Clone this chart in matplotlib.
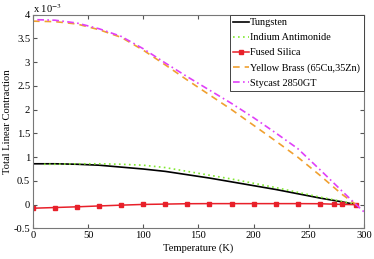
import numpy as np
import matplotlib
matplotlib.use('Agg')
import matplotlib.pyplot as plt

# ---- data (values in units of 1e-3) ----
t_w = [0, 20, 40, 60, 80, 100, 120, 140, 160, 180, 200, 220, 240, 260, 280, 293]
tungsten = [0.86, 0.86, 0.85, 0.83, 0.79, 0.75, 0.70, 0.63, 0.56, 0.48, 0.40, 0.32, 0.23, 0.14, 0.06, 0.0]

t_insb = [10, 20, 40, 60, 80, 100, 120, 140, 160, 180, 200, 220, 240, 260, 280, 290]
insb = [0.85, 0.85, 0.86, 0.86, 0.85, 0.83, 0.78, 0.70, 0.62, 0.54, 0.45, 0.36, 0.26, 0.16, 0.07, 0.02]

t_sio2 = [0, 20, 40, 60, 80, 100, 120, 140, 160, 180, 200, 220, 240, 260, 273, 280, 293]
sio2 = [-0.075, -0.06, -0.045, -0.027, -0.01, 0.005, 0.012, 0.02, 0.022, 0.022, 0.022, 0.022, 0.022, 0.02,
        0.01, 0.005, 0.0]

t_brass = [0, 20, 40, 60, 80, 100, 120, 140, 160, 180, 200, 220, 240, 260, 280, 293]
brass = [3.86, 3.85, 3.80, 3.68, 3.52, 3.25, 2.94, 2.62, 2.31, 2.00, 1.67, 1.34, 1.00, 0.62, 0.22, 0.0]

t_sty = [4, 20, 40, 60, 80, 100, 120, 140, 160, 180, 200, 220, 240, 260, 280, 293, 300]
stycast = [3.89, 3.88, 3.82, 3.70, 3.54, 3.28, 2.98, 2.69, 2.41, 2.13, 1.83, 1.51, 1.18, 0.74, 0.29, 0.0, -0.15]

labels = ['Tungsten', 'Indium Antimonide', 'Fused Silica', 'Yellow Brass (65Cu,35Zn)', 'Stycast 2850GT']

plt.rcParams['font.family'] = ['Liberation Serif', 'DejaVu Serif']
plt.rcParams['mathtext.fontset'] = 'stix'

fig = plt.figure(figsize=(3.74, 2.59), dpi=100)
ax = fig.add_axes([0.088, 0.118, 0.885, 0.826])

ax.plot(t_w, tungsten, color='black', lw=1.2, label=labels[0])
ax.plot(t_insb, insb, color='#80e830', lw=1.2, ls=(0, (1, 2)), label=labels[1])
ax.plot(t_sio2, sio2, color='#e8202a', lw=1.1, marker='s', ms=2.8, label=labels[2])
ax.plot(t_brass, brass, color='#f0a030', lw=1.2, ls=(0, (4, 3)), label=labels[3])
ax.plot(t_sty, stycast, color='#e040f8', lw=1.2, ls=(0, (4, 2, 1, 2)), label=labels[4])

ax.set_xlim(0, 300)
ax.set_ylim(-0.5, 4)
ax.set_xticks(np.arange(0, 301, 50))
ax.set_yticks(np.arange(-0.5, 4.01, 0.5))
ax.set_yticklabels(['-0.5', '0', '0.5', '1', '1.5', '2', '2.5', '3', '3.5', '4'])
ax.tick_params(direction='in', top=True, right=True, labelsize=7.6, length=3, color='#555555', pad=2)
for s in ax.spines.values():
    s.set_color('#777777')
    s.set_linewidth(0.8)

ax.set_xlabel('Temperature (K)', fontsize=7.6, labelpad=2)
ax.set_ylabel('Total Linear Contraction', fontsize=7.6, labelpad=1)
ax.text(0.0, 1.0, r'x 10$^{-3}$', transform=ax.transAxes, fontsize=7.6, va='bottom', ha='left')

leg = ax.legend(loc='upper right', fontsize=7.4, handlelength=1.5, handletextpad=0.15,
                borderpad=0.35, labelspacing=0.56, fancybox=False, framealpha=1,
                borderaxespad=0.0)
leg.get_frame().set_edgecolor('#444444')
leg.get_frame().set_linewidth(0.7)

fig.savefig('out.png', dpi=100)
